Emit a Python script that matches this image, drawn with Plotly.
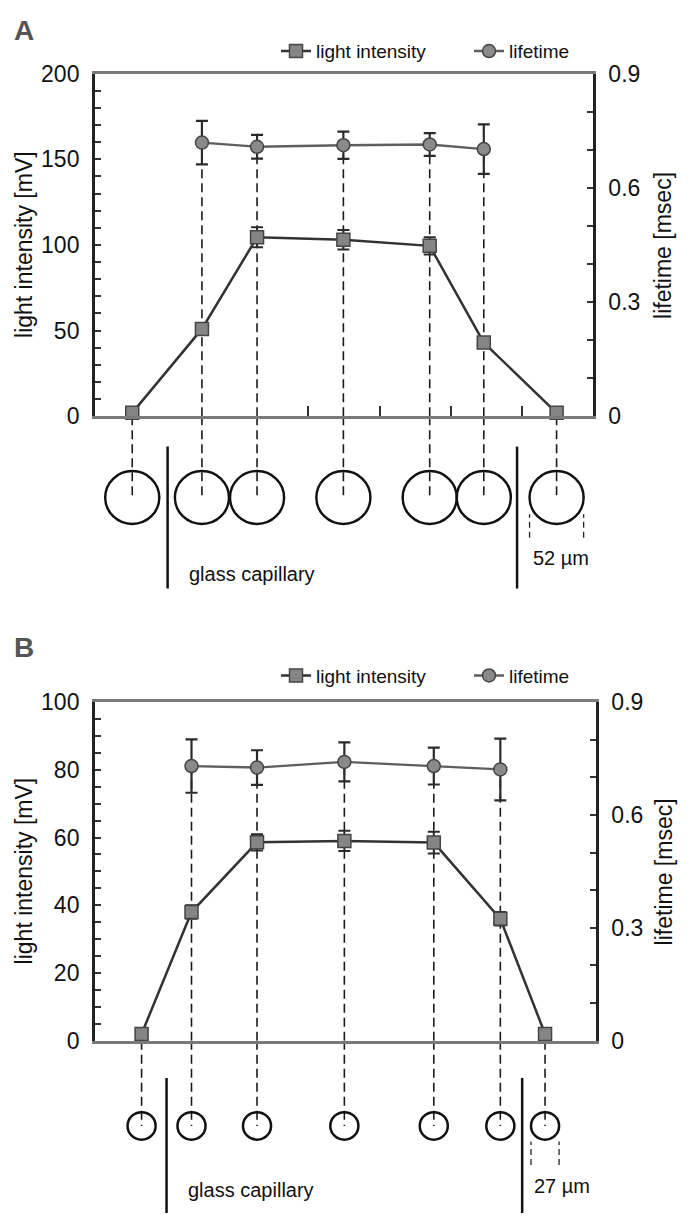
import plotly.graph_objects as go

W, H = 691, 1226
FONT = "Liberation Sans, Arial, sans-serif"

# ---------------- data (panel A) ----------------
A_pos = [36, 103, 156, 239, 322, 374, 444]          # cell position [µm]
A_light = [2, 51, 104.5, 103, 99.5, 43, 2]          # light intensity [mV]
A_light_err = [0, 3, 5.8, 5.7, 5, 3, 0]
A_life_pos = [103, 156, 239, 322, 374]
A_life = [0.719, 0.708, 0.712, 0.714, 0.702]        # lifetime [msec]
A_life_err = [0.057, 0.031, 0.036, 0.030, 0.065]
A_cell_d = 52                                       # cell diameter [µm]
A_walls = [70, 406]                                 # capillary walls [µm]
A_xticks = [205, 274, 342, 411]
A_xrange = [0, 479]
A_yticks = [0, 50, 100, 150, 200]
A_y2ticks = [0, 0.3, 0.6, 0.9]

# ---------------- data (panel B) ----------------
B_pos = [45, 93, 156, 240, 326, 390, 433]
B_light = [2, 38, 58.6, 59, 58.5, 36, 2]
B_light_err = [0, 2, 2.4, 3.0, 3.2, 2, 0]
B_life_pos = [93, 156, 240, 326, 390]
B_life = [0.730, 0.726, 0.741, 0.730, 0.721]
B_life_err = [0.071, 0.046, 0.052, 0.049, 0.082]
B_cell_d = 27
B_walls = [69, 411]
B_xrange = [0, 482]
B_yticks = [0, 20, 40, 60, 80, 100]
B_y2ticks = [0, 0.3, 0.6, 0.9]

# ---------------- layout geometry (px) ----------------
def py(v):
    return 1 - v / H

A_dom_x = [94.8 / W, 593 / W]
A_dom_y = [py(412), py(62)]
B_dom_x = [94.8 / W, 596 / W]
B_dom_y = [py(1050), py(704)]

SQ = dict(symbol="square", size=13, color="#858585", line=dict(color="#454545", width=1.5))
CI = dict(symbol="circle", size=13, color="#8a8a8a", line=dict(color="#454545", width=1.5))

fig = go.Figure()


def add_panel(pos, light, light_err, life_pos, life, life_err, xa, ya, ya2, leg):
    fig.add_trace(go.Scatter(
        x=pos, y=light, mode="lines+markers", name="light intensity",
        xaxis=xa, yaxis=ya, legend=leg, cliponaxis=False,
        line=dict(color="#333333", width=2.5), marker=SQ,
        error_y=dict(type="data", array=light_err, color="#2a2a2a", thickness=2, width=6),
    ))
    fig.add_trace(go.Scatter(
        x=life_pos, y=life, mode="lines+markers", name="lifetime",
        xaxis=xa, yaxis=ya2, legend=leg, cliponaxis=False,
        line=dict(color="#5e5e5e", width=2.3), marker=CI,
        error_y=dict(type="data", array=life_err, color="#2a2a2a", thickness=2.2, width=6),
    ))


add_panel(A_pos, A_light, A_light_err, A_life_pos, A_life, A_life_err, "x", "y", "y2", "legend")
add_panel(B_pos, B_light, B_light_err, B_life_pos, B_life, B_life_err, "x2", "y3", "y4", "legend2")

shapes = []
annotations = []
DASH = dict(color="#1a1a1a", width=1.6, dash="9px,5px")


def schematic(pos, light, life_pos, life, d, walls, xr, dom_x, dom_y, xref, yref, yref2,
              cy_px, wall_top_px, wall_bot_px, bar_px, label, label_y_px, cap_y_px):
    px_per_um = (dom_x[1] - dom_x[0]) * W / (xr[1] - xr[0])
    r_paper = d / 2 * px_per_um / H
    cy = py(cy_px)
    for i, x in enumerate(pos):
        if x in life_pos:
            v = life[life_pos.index(x)]
            shapes.append(dict(type="line", xref=xref, yref=yref2, x0=x, x1=x, y0=0, y1=v,
                               line=DASH, layer="below"))
        else:
            shapes.append(dict(type="line", xref=xref, yref=yref, x0=x, x1=x, y0=0, y1=light[i],
                               line=DASH, layer="below"))
        shapes.append(dict(type="line", xref=xref, yref="paper", x0=x, x1=x,
                           y0=dom_y[0], y1=cy, line=DASH, layer="below"))
        shapes.append(dict(type="circle", xref=xref, yref="paper",
                           x0=x - d / 2, x1=x + d / 2, y0=cy - r_paper, y1=cy + r_paper,
                           line=dict(color="#111111", width=2.5)))
    for w in walls:
        shapes.append(dict(type="line", xref=xref, yref="paper", x0=w, x1=w,
                           y0=py(wall_bot_px), y1=py(wall_top_px),
                           line=dict(color="#111111", width=2.5)))
    xl = pos[-1]
    for xe in (xl - d / 2, xl + d / 2):
        shapes.append(dict(type="line", xref=xref, yref="paper", x0=xe, x1=xe,
                           y0=py(bar_px[1]), y1=py(bar_px[0]),
                           line=dict(color="#222222", width=1.3, dash="6px,4px")))
    annotations.append(dict(text=label, xref=xref, yref="paper", x=xl - d / 2 + 1,
                            y=py(label_y_px), xanchor="left", yanchor="middle",
                            showarrow=False, font=dict(size=20, color="#111111", family=FONT)))
    annotations.append(dict(text="glass capillary", xref=xref, yref="paper", x=walls[0] + 19,
                            y=py(cap_y_px), xanchor="left", yanchor="middle",
                            showarrow=False, font=dict(size=20, color="#111111", family=FONT)))


schematic(A_pos, A_light, A_life_pos, A_life, A_cell_d, A_walls, A_xrange, A_dom_x, A_dom_y,
          "x", "y", "y2", 495, 443, 588, (512, 536), "52 µm", 557, 573)
schematic(B_pos, B_light, B_life_pos, B_life, B_cell_d, B_walls, B_xrange, B_dom_x, B_dom_y,
          "x2", "y3", "y4", 1137, 1088, 1226, (1153, 1177), "27 µm", 1198, 1203)

# panel letters
for txt, yy in (("A", 18), ("B", 648)):
    annotations.append(dict(text="<b>%s</b>" % txt, xref="paper", yref="paper", x=24 / W, y=py(yy),
                            xanchor="center", yanchor="middle", showarrow=False,
                            font=dict(size=28, color="#555555", family=FONT)))
# axis titles
for txt, xx, yy in (("light intensity [mV]", 24, 237), ("lifetime [msec]", 663, 238),
                    ("light intensity [mV]", 24, 877), ("lifetime [msec]", 664, 878)):
    annotations.append(dict(text=txt, xref="paper", yref="paper", x=xx / W, y=py(yy),
                            xanchor="center", yanchor="middle", textangle=-90, showarrow=False,
                            font=dict(size=23, color="#111111", family=FONT)))

XL = dict(showline=True, linecolor="#7a7a7a", linewidth=3, mirror=True, showgrid=False,
          zeroline=False, showticklabels=False)
YL = dict(showline=True, linecolor="#222222", linewidth=2.5, showgrid=False, zeroline=False,
          ticks="inside", ticklen=6, tickwidth=1.5, tickcolor="#333333",
          tickfont=dict(size=23, color="#111111", family=FONT), ticklabelstandoff=8)

fig.update_layout(
    width=W, height=H, margin=dict(l=0, r=0, t=0, b=0),
    paper_bgcolor="white", plot_bgcolor="white",
    font=dict(family=FONT, color="#111111"),
    xaxis=dict(XL, domain=A_dom_x, range=A_xrange, anchor="y", tickmode="array",
               tickvals=A_xticks, ticks="inside", ticklen=10, tickwidth=1.5, tickcolor="#333333"),
    yaxis=dict(YL, domain=A_dom_y, range=[0, 200], anchor="x", tickmode="array",
               tickvals=A_yticks, mirror=True,
               minor=dict(dtick=10, ticks="inside", ticklen=6, tickwidth=1.5, tickcolor="#333333")),
    yaxis2=dict(YL, range=[0, 0.9], anchor="x", overlaying="y", side="right", tickmode="array",
                tickvals=A_y2ticks,
                minor=dict(dtick=0.1, ticks="inside", ticklen=6, tickwidth=1.5, tickcolor="#333333")),
    xaxis2=dict(XL, domain=B_dom_x, range=B_xrange, anchor="y3", ticks=""),
    yaxis3=dict(YL, domain=B_dom_y, range=[0, 100], anchor="x2", tickmode="array",
                tickvals=B_yticks, mirror=True,
                minor=dict(dtick=5, ticks="inside", ticklen=6, tickwidth=1.5, tickcolor="#333333")),
    yaxis4=dict(YL, range=[0, 0.9], anchor="x2", overlaying="y3", side="right", tickmode="array",
                tickvals=B_y2ticks,
                minor=dict(dtick=0.1, ticks="inside", ticklen=6, tickwidth=1.5, tickcolor="#333333")),
    legend=dict(orientation="h", x=276 / W, y=py(39), xanchor="left", yanchor="middle",
                font=dict(size=19, color="#111111", family=FONT), bgcolor="rgba(0,0,0,0)",
                entrywidth=148, entrywidthmode="pixels"),
    legend2=dict(orientation="h", x=276 / W, y=py(677), xanchor="left", yanchor="middle",
                 font=dict(size=19, color="#111111", family=FONT), bgcolor="rgba(0,0,0,0)",
                 entrywidth=148, entrywidthmode="pixels"),
    shapes=shapes, annotations=annotations, showlegend=True,
)

fig.write_html("out.html")
